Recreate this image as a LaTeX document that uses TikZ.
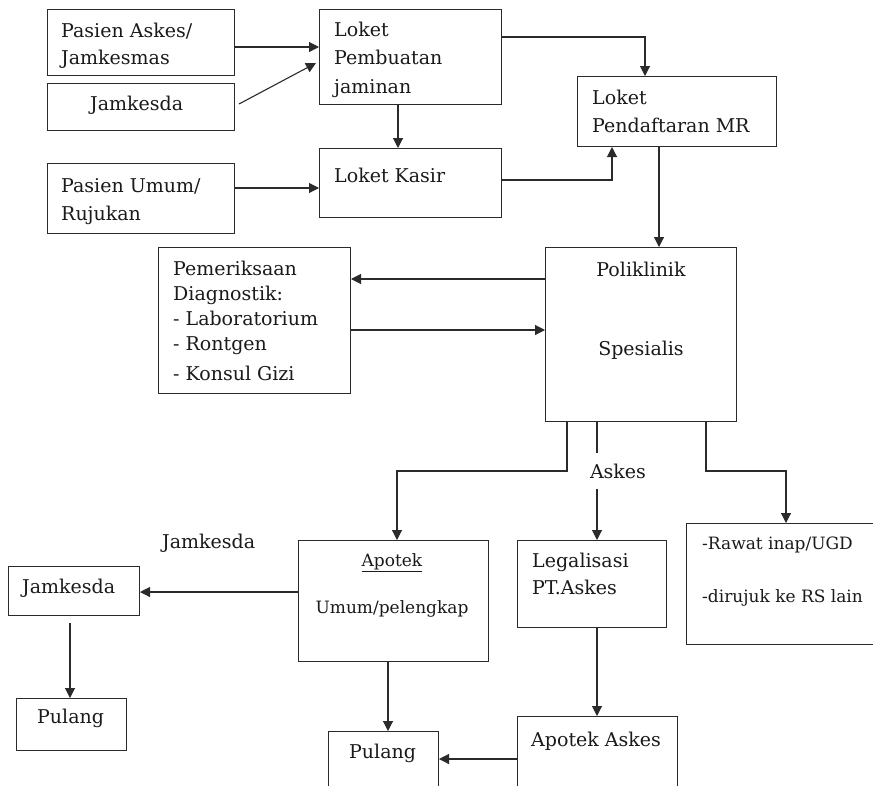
\documentclass[tikz,border=0pt]{standalone}
\usepackage{fontspec}
\setmainfont{DejaVu Serif}
\usepackage{tikz}
\usetikzlibrary{arrows.meta,positioning,calc}
\definecolor{garis}{HTML}{2B2B2B}
\definecolor{tinta}{HTML}{1A1A1A}

\begin{document}
\begin{tikzpicture}[x=1pt, y=-1pt, >={Triangle[length=10pt,width=10pt]},
  kotak/.style={draw=garis, line width=1pt, inner sep=0pt, anchor=north west},
  teks/.style={inner sep=0pt, anchor=base west, align=left, text=tinta, font=\fontsize{19}{27}\selectfont},
  kecil/.style={teks, font=\fontsize{17}{24}\selectfont},
  panah/.style={->, draw=garis, line width=1.1pt}]
\clip (0,0) rectangle (873,785);
\fill[white] (0,0) rectangle (873,785);
% kotak-kotak
\node[kotak, minimum width=187, minimum height=66] (askes) at (47,9) {};
\node[kotak, minimum width=187, minimum height=47] (jamkesda) at (47,83) {};
\node[kotak, minimum width=182, minimum height=95] (pembuatan) at (319,9) {};
\node[kotak, minimum width=182, minimum height=69] (kasir) at (319,148) {};
\node[kotak, minimum width=187, minimum height=70] (umum) at (47,163) {};
\node[kotak, minimum width=199, minimum height=70] (pendaftaran) at (577,76) {};
\node[kotak, minimum width=192, minimum height=146] (diagnostik) at (158,247) {};
\node[kotak, minimum width=191, minimum height=174] (poli) at (545,247) {};
\node[kotak, minimum width=190, minimum height=121] (apotek) at (298,540) {};
\node[kotak, minimum width=149, minimum height=87] (legal) at (517,540) {};
\node[kotak, minimum width=200, minimum height=121] (rawat) at (686,523) {};
\node[kotak, minimum width=131, minimum height=49] (jamLeft) at (8,566) {};
\node[kotak, minimum width=110, minimum height=52] (pulangL) at (16,698) {};
\node[kotak, minimum width=110, minimum height=70] (pulangM) at (328,731) {};
\node[kotak, minimum width=160, minimum height=80] (apAskes) at (517,716) {};
% tulisan (baris banyak: titik base = baris terakhir)
\node[teks] (tAskes) at (61,64) {Pasien Askes/\\Jamkesmas};
\node[teks] (tJamkesda) at (90,110) {Jamkesda};
\node[teks, font=\fontsize{19}{28.5}\selectfont] (tPembuatan) at (334,93) {Loket\\Pembuatan\\jaminan};
\node[teks] (tKasir) at (334,182) {Loket Kasir};
\node[teks, font=\fontsize{19}{28}\selectfont] (tUmum) at (61,220) {Pasien Umum/\\Rujukan};
\node[teks, font=\fontsize{19}{28}\selectfont] (tPendaftaran) at (592,132) {Loket\\Pendaftaran MR};
\node[teks, font=\fontsize{19}{25}\selectfont] (tDiagnostik) at (173,380) {Pemeriksaan\\Diagnostik:\\- Laboratorium\\- Rontgen\\[5pt]- Konsul Gizi};
\node[teks, anchor=base, align=center] (tPoli) at (641,355) {Poliklinik\\[52pt]Spesialis};
\node[kecil, anchor=base, align=center] (tApotek) at (392,613) {\underline{Apotek}\\[23pt]Umum/pelengkap};
\node[teks] (tLegal) at (532,594) {Legalisasi\\PT.Askes};
\node[kecil] (tRawat) at (702,602) {-Rawat inap/UGD\\[29pt]-dirujuk ke RS lain};
\node[teks] (tJamLeft) at (22,593) {Jamkesda};
\node[teks] (tPulangL) at (37,723) {Pulang};
\node[teks] (tPulangM) at (349,758) {Pulang};
\node[teks] (tApAskes) at (531,746) {Apotek Askes};
\node[teks] (lblJamkesda) at (162,548) {Jamkesda};
\node[teks, anchor=center, minimum height=35] (lblAskes) at (618,471) {Askes};
\coordinate (cabang) at (0,471);
% panah
\draw[panah] (askes.east |- 0,47) -- (pembuatan.west |- 0,47);
\draw[panah] ($(jamkesda.east)+(4,-3)$) -- ($(pembuatan.west)+(-3,6)$);
\draw[panah] (pembuatan.south -| 398,0) -- (kasir.north -| 398,0);
\draw[panah] (umum.east |- 0,188) -- (kasir.west |- 0,188);
\draw[panah] (pembuatan.east |- 0,37) -| (pendaftaran.north -| 645,0);
\draw[panah] (kasir.east |- 0,180) -| (pendaftaran.south -| 612,0);
\draw[panah] (pendaftaran.south -| 659,0) -- (poli.north -| 659,0);
\draw[panah] (poli.west |- 0,279) -- (diagnostik.east |- 0,279);
\draw[panah] (diagnostik.east |- 0,330) -- (poli.west |- 0,330);
\draw[panah] (poli.south -| 567,0) |- (cabang -| 397,0) -- (apotek.north -| 397,0);
\draw[draw=garis, line width=1.1pt] (poli.south -| 597,0) -- (lblAskes.north -| 597,0);
\draw[panah] (lblAskes.south -| 597,0) -- (legal.north -| 597,0);
\draw[panah] (poli.south -| 706,0) |- (cabang -| 786,0) -- (rawat.north -| 786,0);
\draw[panah] (legal.south -| 597,0) -- (apAskes.north -| 597,0);
\draw[panah] (apAskes.west |- 0,759) -- (pulangM.east |- 0,759);
\draw[panah] (apotek.south -| 388,0) -- (pulangM.north -| 388,0);
\draw[panah] (apotek.west |- 0,592) -- (jamLeft.east |- 0,592);
\draw[panah, shorten <=7pt] (jamLeft.south -| 70,0) -- (pulangL.north -| 70,0);
\end{tikzpicture}
\end{document}
